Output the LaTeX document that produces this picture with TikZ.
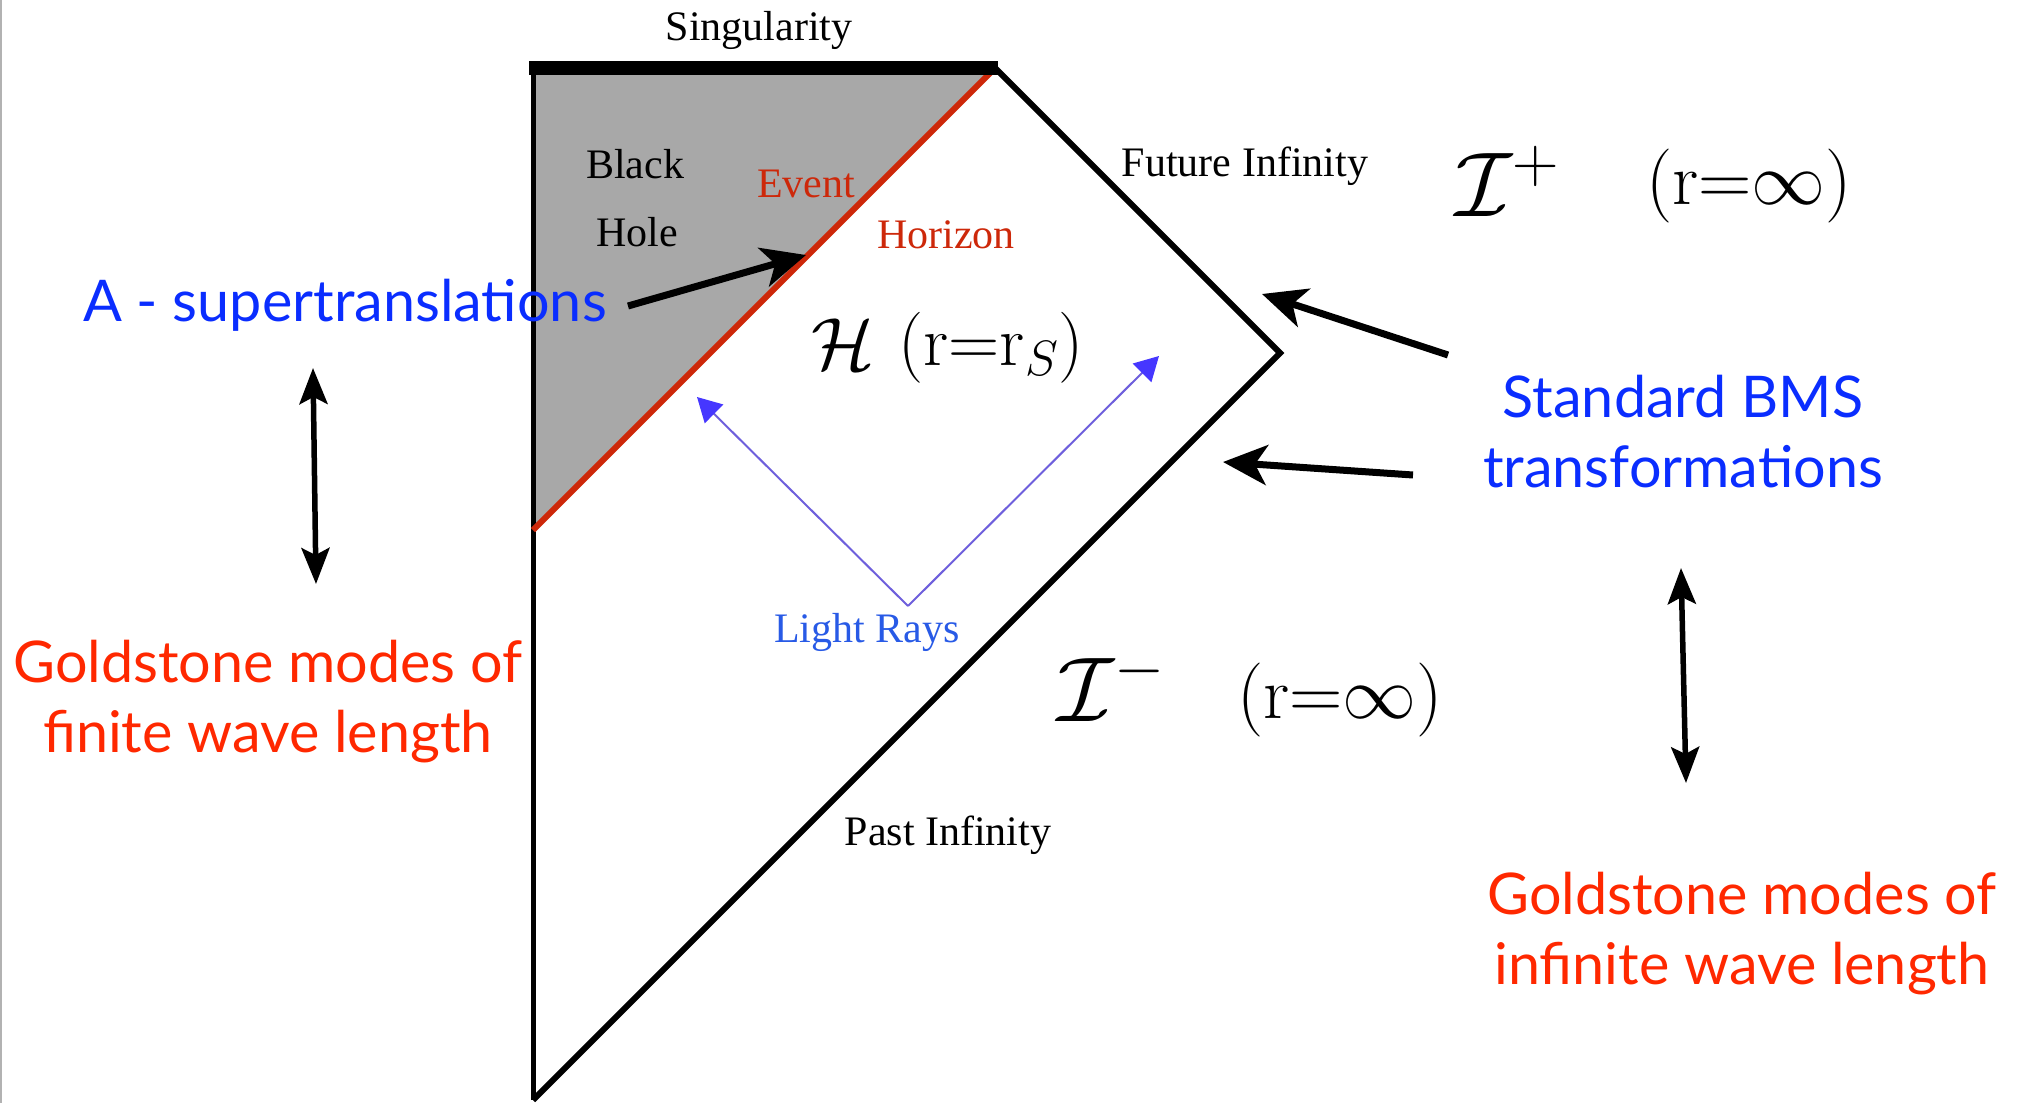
\RequirePackage{fix-cm}
\documentclass[tikz,border=0pt]{standalone}
\usepackage[no-math]{fontspec}
\setmainfont{Liberation Serif}
\newfontfamily\gill{Lato}
\usetikzlibrary{arrows.meta}
\definecolor{bhgray}{RGB}{168,168,168}
\definecolor{evred}{RGB}{205,40,10}
\definecolor{lblue}{RGB}{40,90,230}
\definecolor{sblue}{RGB}{10,45,255}
\definecolor{sred}{RGB}{255,40,0}
\definecolor{raycol}{RGB}{110,95,220}
\definecolor{rayhead}{RGB}{70,55,255}
\begin{document}
\begin{tikzpicture}[x=1pt,y=-1pt,
  serif/.style={font=\fontsize{42}{48}\selectfont, inner sep=0pt},
  sans/.style={font=\gill\fontsize{57.5}{70}\selectfont, align=center, inner sep=0pt},
  mathH/.style={font=\fontsize{71}{76}\selectfont, inner sep=0pt, anchor=base},
  calH/.style={font=\fontsize{74}{80}\selectfont, inner sep=0pt, anchor=base},
  mathP/.style={font=\fontsize{74}{80}\selectfont, inner sep=0pt, anchor=base},
  calI/.style={font=\fontsize{92}{98}\selectfont, inner sep=0pt, anchor=base},
  bigarrow/.style={line width=7pt, -{Stealth[length=44pt,width=40pt,inset=12pt]}},
  dblarrow/.style={line width=5.5pt, {Stealth[length=36pt,width=28pt,inset=7pt]}-{Stealth[length=36pt,width=28pt,inset=7pt]}},
  ray/.style={raycol, line width=2pt, -{Triangle[length=24pt,width=26pt,color=rayhead]}}
]
\useasboundingbox (0,0) rectangle (2023,1103);
\draw[gray!60, line width=1.5pt] (1,0) -- (1,1103);
% geometry
\coordinate (TL) at (533,68);
\coordinate (TR) at (995,68);
\coordinate (V) at (1280,353);
\coordinate (BL) at (533,1100);
\coordinate (EH) at (533,530);
\coordinate (SL) at (529,68);
\coordinate (SR) at (998,68);
\fill[bhgray] (TL) -- (TR) -- (EH) -- cycle;
\draw[line width=5pt] (TL) -- (BL);
\draw[line width=6pt, line join=miter] (TR) -- (V) -- (BL);
\draw[evred, line width=6pt] (TR) -- (EH);
\draw[line width=14pt] (SL) -- (SR);
% serif labels
\node[serif] (sing) at (759,30) {Singularity};
\node[serif] (black) at (635,164) {Black};
\node[serif] (hole) at (637,232) {Hole};
\node[serif, text=evred] (event) at (806,184) {Event};
\node[serif, text=evred] (horizon) at (946,235) {Horizon};
\node[serif] (future) at (1245,166) {Future Infinity};
\node[serif] (past) at (948,835) {Past Infinity};
\node[serif, text=lblue] (light) at (867,632) {Light Rays};
% math labels
\node[calH] (hcal) at (843,369) {$\mathcal{H}$};
\node[mathH] (hpar) at (991,365) {$(\mathrm{r}{=}\mathrm{r}_S)$};
\node[calI] (iplus) at (1507,216) {$\mathcal{I}^+$};
\node[mathP] (rinfp) at (1749,204) {$(\mathrm{r}{=}\infty)$};
\node[calI] (iminus) at (1111,721) {$\mathcal{I}^-$};
\node[mathP] (rinfm) at (1340,718) {$(\mathrm{r}{=}\infty)$};
% light rays
\coordinate (rv) at (908,606);
\coordinate (rl) at (697,397);
\coordinate (rr) at (1159,356);
\draw[ray] (rv) -- (rl);
\draw[ray] (rv) -- (rr);
% sans labels
\node[sans, text=sblue] (asuper) at (345,305) {A - supertranslations};
\node[sans, text=sblue] (bms) at (1683,432) {Standard BMS\\transformations};
\node[sans, text=sred] (gfin) at (268,702) {Goldstone modes of\\finite wave length};
\node[sans, text=sred] (ginf) at (1742,934) {Goldstone modes of\\infinite wave length};
% arrows
\coordinate (aS) at (628,306);
\coordinate (aT) at (806,255);
\draw[bigarrow] (aS) -- (aT);
\coordinate (b1S) at (1448,355);
\coordinate (b1T) at (1262,294);
\draw[bigarrow] (b1S) -- (b1T);
\coordinate (b2S) at (1413,475);
\coordinate (b2T) at (1223,462);
\draw[bigarrow] (b2S) -- (b2T);
\coordinate (d1A) at (313,368);
\coordinate (d1B) at (316,584);
\draw[dblarrow] (d1A) -- (d1B);
\coordinate (d2A) at (1681,568);
\coordinate (d2B) at (1686,783);
\draw[dblarrow] (d2A) -- (d2B);
\end{tikzpicture}
\end{document}
